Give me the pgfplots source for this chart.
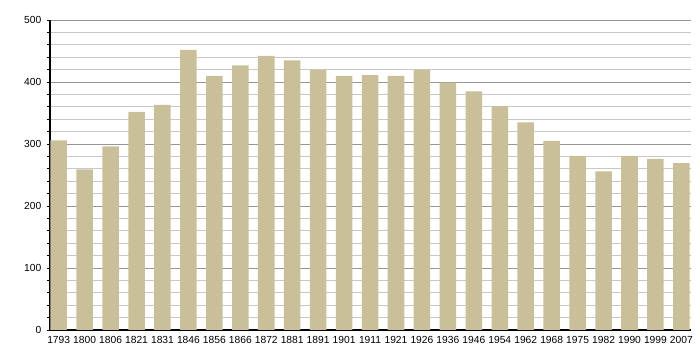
\documentclass[border=0pt]{standalone}
\usepackage{pgfplots}
\pgfplotsset{compat=1.18}
\usepackage{fontspec}
\setmainfont{Liberation Sans}
\definecolor{barc}{RGB}{201,192,153}
\definecolor{majg}{RGB}{150,150,150}
\definecolor{ming}{RGB}{200,200,200}
\begin{document}
\begin{tikzpicture}
\useasboundingbox (-37.5pt,-22.5pt) rectangle (487.5pt,247.5pt);
\begin{axis}[
  scale only axis,
  width=480.75pt, height=232.5pt,
  at={(0,0)}, anchor=south west,
  xmin=-0.335, xmax=24.37,
  ymin=0, ymax=500,
  axis x line*=bottom, axis y line*=left,
  axis line style={black, line width=0.8pt},
  xtick=data,
  xticklabels={1793,1800,1806,1821,1831,1846,1856,1866,1872,1881,1891,1901,1911,1921,1926,1936,1946,1954,1962,1968,1975,1982,1990,1999,2007},
  x tick style={draw=none},
  ytick={0,100,...,500},
  minor y tick num=4,
  ymajorgrids, yminorgrids,
  major grid style={majg, line width=0.6pt},
  minor grid style={ming, line width=0.6pt},
  tick align=outside,
  y tick style={black, line width=0.6pt},
  major tick length=2pt, minor tick length=2pt,
  tick label style={font=\fontsize{7.7}{8}\selectfont},
  /pgf/number format/assume math mode=true,
  xticklabel style={yshift=1pt},
  yticklabel style={xshift=-1pt},
]
\addplot[ybar, bar width=12.4pt, fill=barc, draw=none] coordinates {
(0,306) (1,259) (2,296) (3,352) (4,363) (5,452) (6,410) (7,427) (8,442) (9,435)
(10,419) (11,410) (12,411) (13,410) (14,419) (15,399) (16,385) (17,361) (18,335)
(19,305) (20,281) (21,256) (22,281) (23,276) (24,269)
};
\end{axis}
\end{tikzpicture}
\end{document}
